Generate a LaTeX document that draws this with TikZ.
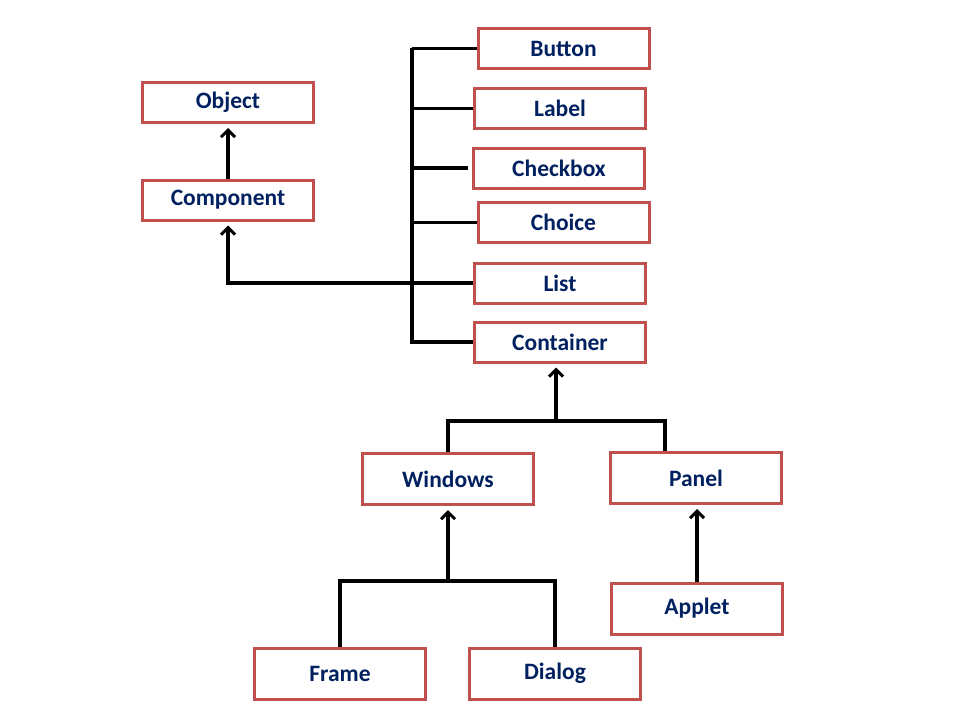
\documentclass[tikz,border=0pt]{standalone}
\usepackage{fontspec}
\setmainfont{Carlito}
\usetikzlibrary{arrows.meta}
\definecolor{boxred}{HTML}{C0504D}
\definecolor{navy}{HTML}{002060}
\begin{document}
\begin{tikzpicture}[x=1pt,y=-1pt,
  cls/.style={draw=boxred,line width=3pt,fill=white,minimum width=171pt,minimum height=40pt,
    inner sep=0pt,text=navy,font=\fontsize{23.5}{26}\selectfont\bfseries},
  tall/.style={cls,minimum height=51pt},
  wire/.style={line width=3.2pt,black},
  arr/.style={wire,-{Straight Barb[length=7pt,width=14pt,line width=3pt]},shorten >=4pt}]
\useasboundingbox (0,0) rectangle (960,720);
\node[cls] (Object) at (228,102.5) {Object};
\node[cls] (Component) at (228,200) {Component};
\node[cls] (Button) at (563.5,48.5) {Button};
\node[cls] (Label) at (560,108.5) {Label};
\node[cls] (Checkbox) at (559,168) {Checkbox};
\node[cls] (Choice) at (563.5,222.5) {Choice};
\node[cls] (List) at (560,283) {List};
\node[cls] (Container) at (560,342) {Container};
\node[tall] (Windows) at (448,479) {Windows};
\node[tall] (Panel) at (696,478) {Panel};
\node[tall] (Applet) at (697,608.5) {Applet};
\node[tall] (Frame) at (340,673.5) {Frame};
\node[tall] (Dialog) at (555,673.5) {Dialog};
% Object <- Component
\draw[arr] (Component.north) -- (Object.south);
% bus
\coordinate (bus) at (412,48);
\draw[wire] (Button.west) -| (bus) |- (Container.west);
\draw[wire] (Label.west) -- (Label.west -| bus);
\draw[wire,shorten <=4pt] (Checkbox.west) -- (Checkbox.west -| bus);
\draw[wire] (Choice.west) -- ([xshift=-2pt]Choice.west -| bus);
\draw[arr] (List.west) -| (Component.south);
% Container
\coordinate (cj) at (556,421);
\draw[arr] (cj) -- (cj |- Container.south);
\draw[wire] (Windows.north) |- (cj) -| ([xshift=-31pt]Panel.north);
% Windows
\coordinate (wj) at (448,581);
\draw[arr] (wj) -- (Windows.south);
\draw[wire] (Frame.north) |- (wj) -| (Dialog.north);
% Panel
\draw[arr] (Applet.north) -- (Applet.north |- Panel.south);
\end{tikzpicture}
\end{document}
